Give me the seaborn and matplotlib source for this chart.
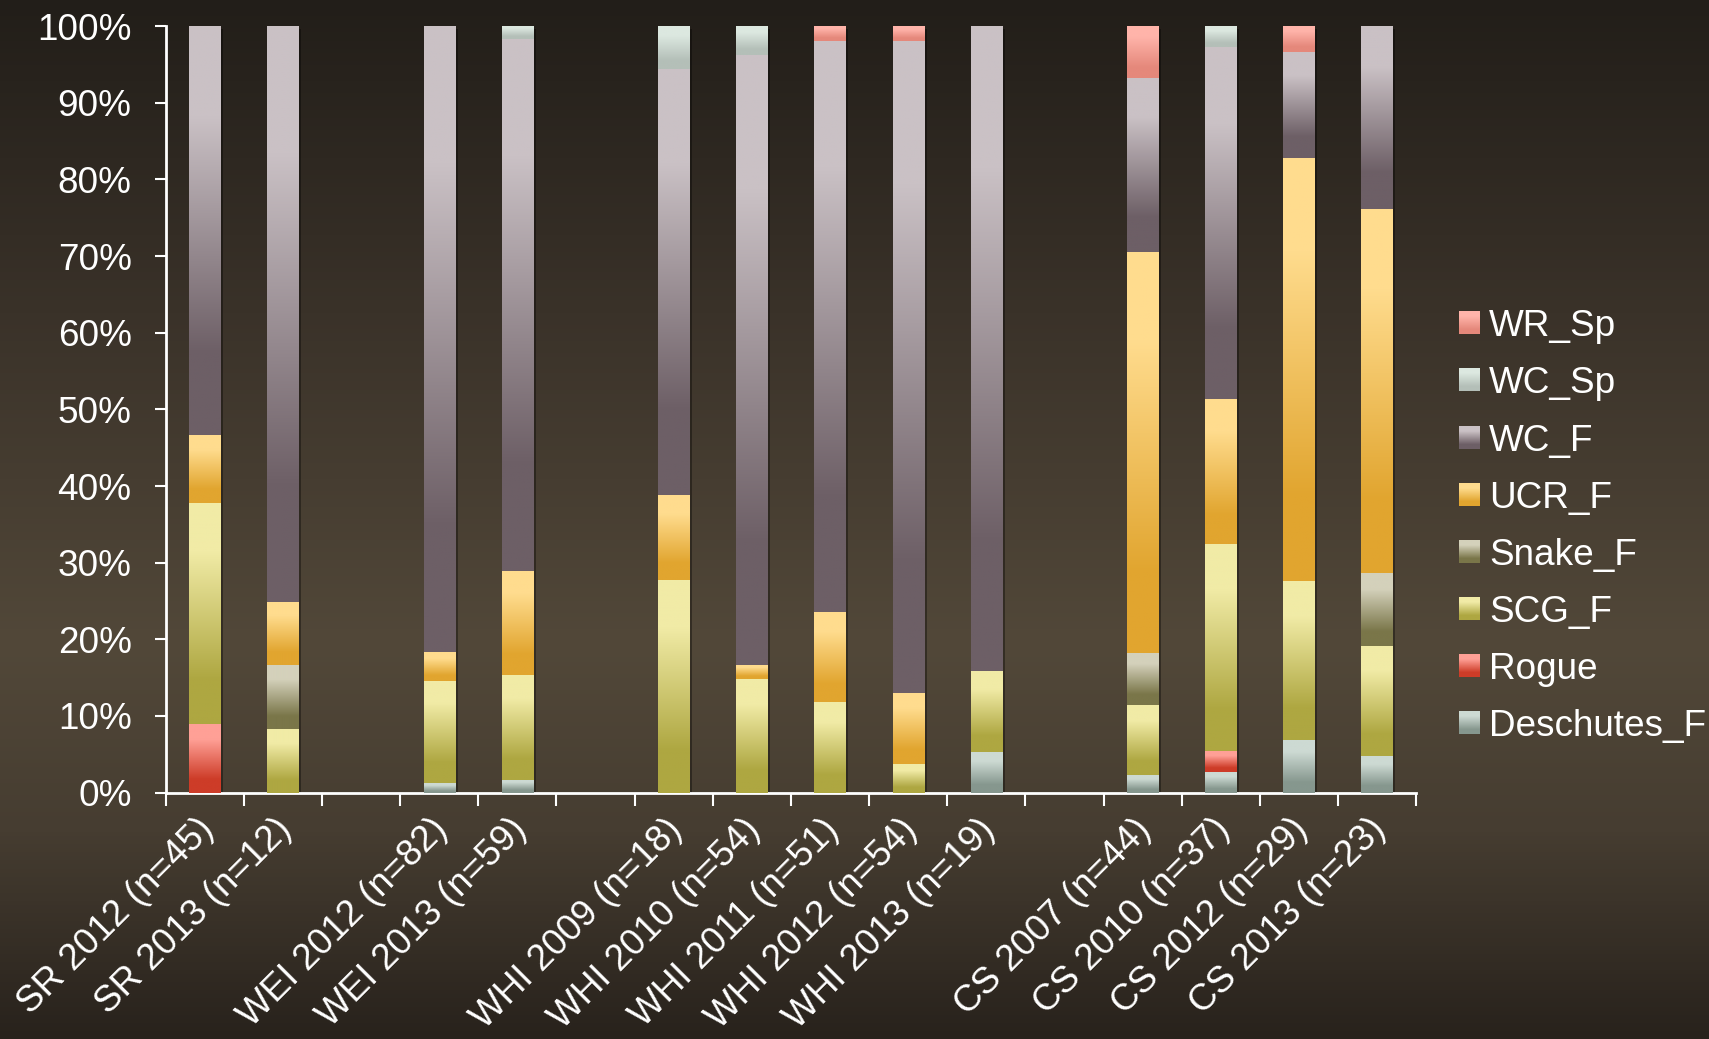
import numpy as np
import pandas as pd
import seaborn as sns
import matplotlib.pyplot as plt
from matplotlib import patheffects
from matplotlib.colors import LinearSegmentedColormap
from matplotlib.patches import Patch
from matplotlib.legend_handler import HandlerBase
from matplotlib.image import BboxImage
from matplotlib.transforms import Bbox, TransformedBbox, ScaledTranslation

# sites, in plotting order (three empty slots separate the rivers)
sites = ["SR 2012 (n=45)", "SR 2013 (n=12)",
         "WEI 2012 (n=82)", "WEI 2013 (n=59)",
         "WHI 2009 (n=18)", "WHI 2010 (n=54)", "WHI 2011 (n=51)", "WHI 2012 (n=54)", "WHI 2013 (n=19)",
         "CS 2007 (n=44)", "CS 2010 (n=37)", "CS 2012 (n=29)", "CS 2013 (n=23)"]
order = sites[:2] + [" "] + sites[2:4] + ["  "] + sites[4:9] + ["   "] + sites[9:]

# percent of each stock, bottom of the stack first
species = ["Deschutes_F", "Rogue", "SCG_F", "Snake_F", "UCR_F", "WC_F", "WC_Sp", "WR_Sp"]
deschutes_f = [0, 0, 1.2, 1.7, 0, 0, 0, 0, 5.3, 2.3, 2.7, 6.9, 4.8]
rogue       = [8.9, 0, 0, 0, 0, 0, 0, 0, 0, 0, 2.7, 0, 0]
scg_f       = [28.9, 8.3, 13.4, 13.6, 27.8, 14.8, 11.8, 3.7, 10.5, 9.1, 27.0, 20.7, 14.3]
snake_f     = [0, 8.3, 0, 0, 0, 0, 0, 0, 0, 6.8, 0, 0, 9.5]
ucr_f       = [8.9, 8.3, 3.7, 13.6, 11.1, 1.9, 11.8, 9.3, 0, 52.3, 18.9, 55.2, 47.6]
wc_f        = [53.3, 75.0, 81.7, 69.5, 55.6, 79.6, 74.5, 85.2, 84.2, 22.7, 45.9, 13.8, 23.8]
wc_sp       = [0, 0, 0, 1.7, 5.6, 3.7, 0, 0, 0, 0, 2.7, 0, 0]
wr_sp       = [0, 0, 0, 0, 0, 0, 2.0, 1.9, 0, 6.8, 0, 3.4, 0]

# (light top, dark bottom) of each gradient fill
shades = {
    "Deschutes_F": ("#cddad3", "#86978e"),
    "Rogue":       ("#ffa096", "#cd3c28"),
    "SCG_F":       ("#f1eba6", "#aea741"),
    "Snake_F":     ("#d4d1bb", "#7a7649"),
    "UCR_F":       ("#ffdc8e", "#e1a52f"),
    "WC_F":        ("#cac1c5", "#6d5f66"),
    "WC_Sp":       ("#dce8e0", "#b4bfb8"),
    "WR_Sp":       ("#ffb4aa", "#e5887b"),
}

df = pd.DataFrame({"Deschutes_F": deschutes_f, "Rogue": rogue, "SCG_F": scg_f,
                   "Snake_F": snake_f, "UCR_F": ucr_f, "WC_F": wc_f,
                   "WC_Sp": wc_sp, "WR_Sp": wr_sp}, index=sites)
cum = df.cumsum(axis=1).div(df.sum(axis=1), axis=0) * 100

cmaps = {sp: LinearSegmentedColormap.from_list(sp, [(0, t), (0.22, t), (0.8, b), (1, b)])
         for sp, (t, b) in shades.items()}
grad = np.linspace(0, 1, 256).reshape(-1, 1)
FS = 26.6

sns.set_theme(style="ticks")
plt.rcParams["font.family"] = ["Liberation Sans", "DejaVu Sans"]

fig = plt.figure(figsize=(17.09, 10.39), dpi=100)

# brown backdrop, lighter just above the axis
bg = fig.add_axes([0, 0, 1, 1], zorder=-10)
bg_cmap = LinearSegmentedColormap.from_list(
    "bg", [(0, "#221e19"), (0.3, "#3a3229"), (0.62, "#524839"), (0.8, "#463d31"), (1, "#28221c")])
bg.imshow(grad, aspect="auto", cmap=bg_cmap, extent=[0, 1, 0, 1])
bg.axis("off")

ax = fig.add_axes([0.097, 0.2372, 0.7316, 0.7376])
ax.set_facecolor("none")

for k, sp in enumerate(reversed(species)):
    n0 = len(ax.patches)
    sns.barplot(x=cum.index, y=cum[sp].values, order=order, color=shades[sp][1],
                width=0.4, saturation=1, ax=ax)
    below = species[len(species) - 2 - k] if k < len(species) - 1 else None
    for p in ax.patches[n0:]:
        site = order[int(round(p.get_x() + p.get_width() / 2))]
        top = cum.loc[site, sp]
        bot = cum.loc[site, below] if below else 0
        p.set_linewidth(0)
        if k == 0:
            p.set_path_effects([patheffects.withSimplePatchShadow(
                offset=(2, -2), shadow_rgbFace="black", alpha=0.35), patheffects.Normal()])
        if top - bot > 0.05:
            im = ax.imshow(grad, cmap=cmaps[sp], aspect="auto", zorder=3,
                           extent=[p.get_x(), p.get_x() + p.get_width(), bot, top])
            im.set_clip_path(p)

ax.set_xlim(-0.5, len(order) - 0.5)
ax.set_ylim(0, 100)
ax.set_xlabel("")
ax.set_ylabel("")
sns.despine(ax=ax)
for s in ("left", "bottom"):
    ax.spines[s].set_color("white")
    ax.spines[s].set_linewidth(2)

ax.set_yticks(range(0, 101, 10))
ax.set_yticklabels([f"{v}%" for v in range(0, 101, 10)])
ax.tick_params(axis="y", colors="white", labelsize=FS, length=8, width=1.5, pad=16.5)

ax.set_xticks(range(len(order)))
ax.set_xticklabels(order, rotation=45, ha="right", rotation_mode="anchor")
ax.tick_params(axis="x", which="major", length=0, labelsize=FS, labelcolor="white", pad=14)
shift = ScaledTranslation(-0.09, 0, fig.dpi_scale_trans)
for lab in ax.get_xticklabels():
    lab.set_transform(lab.get_transform() + shift)
ax.set_xticks(np.arange(-0.5, len(order), 1), minor=True)
ax.tick_params(axis="x", which="minor", length=9, width=1.5, color="white", direction="out")


class GradientSwatch(HandlerBase):
    def create_artists(self, legend, orig_handle, xdescent, ydescent, width, height, fontsize, trans):
        box = TransformedBbox(Bbox.from_bounds(-xdescent, -ydescent, width, height), trans)
        im = BboxImage(box, cmap=cmaps[orig_handle.get_label()], interpolation="bilinear")
        im.set_data(grad)
        return [im]


handles = [Patch(label=sp) for sp in reversed(species)]
leg = fig.legend(handles=handles, labels=list(reversed(species)),
                 handler_map={Patch: GradientSwatch()},
                 loc="center left", bbox_to_anchor=(0.854, 0.493), frameon=False,
                 fontsize=FS, labelcolor="white", handlelength=0.55, handleheight=0.55,
                 handletextpad=0.25, labelspacing=0.6, borderpad=0, borderaxespad=0)

fig.savefig("out.png", dpi=100)
